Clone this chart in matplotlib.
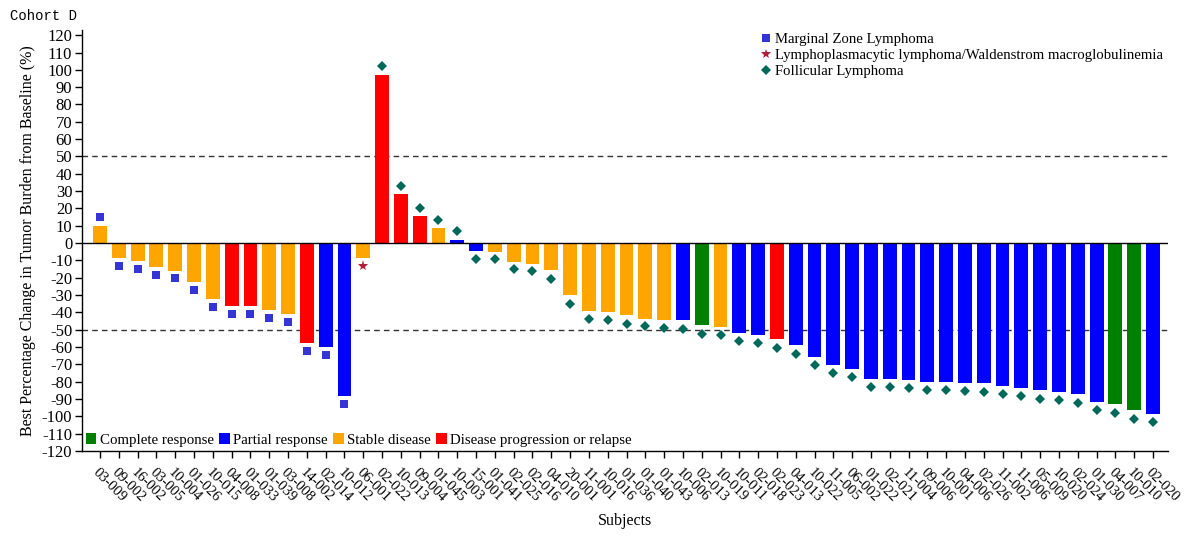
import matplotlib
matplotlib.use("Agg")
import matplotlib.pyplot as plt
from matplotlib.lines import Line2D
from matplotlib.patches import Patch

subjects = ["03-009", "09-002", "16-002", "03-005", "10-004", "01-026", "10-015", "04-008",
            "01-033", "01-039", "03-008", "14-002", "02-014", "10-012", "06-001", "02-022",
            "10-013", "09-004", "01-045", "10-003", "15-001", "01-041", "02-025", "02-016",
            "04-010", "20-001", "11-001", "10-016", "01-036", "01-040", "01-043", "10-006",
            "02-013", "10-019", "10-011", "02-018", "02-023", "04-013", "10-022", "11-005",
            "06-002", "01-022", "02-021", "11-004", "09-006", "10-001", "04-006", "02-026",
            "11-002", "11-006", "05-009", "10-020", "02-024", "01-030", "04-007", "10-010",
            "02-020"]

best_change = [10.0, -8.7, -10.3, -14.0, -15.9, -22.5, -32.0, -36.5, -36.5, -38.8, -41.1,
               -57.8, -59.7, -88.2, -8.7, 97.3, 28.1, 15.9, 8.7, 1.9, -4.3, -4.9, -10.7,
               -12.0, -15.5, -30.0, -39.2, -39.8, -41.7, -43.6, -44.2, -44.6, -47.5, -48.5,
               -51.7, -52.9, -55.6, -59.1, -65.5, -70.3, -72.5, -78.3, -78.3, -78.9, -80.1,
               -80.1, -80.5, -80.9, -82.5, -83.4, -85.0, -86.0, -86.9, -91.6, -93.1, -96.2,
               -98.6]

marker_values = [14.9, -13.2, -14.7, -18.4, -20.4, -27.2, -36.7, -41.1, -41.1, -43.0, -45.8,
                 -62.4, -64.4, -92.7, -13.2, 102.0, 32.9, 20.3, 13.5, 6.8, -9.1, -9.3, -14.7,
                 -16.1, -20.6, -34.9, -43.8, -44.2, -46.5, -48.1, -48.8, -49.4, -52.3, -53.3,
                 -56.6, -57.8, -60.5, -64.0, -70.5, -75.2, -77.4, -83.0, -83.0, -83.5, -84.8,
                 -84.8, -85.3, -85.7, -87.2, -88.2, -89.8, -90.6, -92.3, -96.5, -98.0, -101.5,
                 -103.5]

response = (["SD"] * 7 + ["PD", "PD", "SD", "SD", "PD", "PR", "PR", "SD", "PD", "PD", "PD",
                          "SD", "PR", "PR"]
            + ["SD"] * 10 + ["PR", "CR", "SD", "PR", "PR", "PD", "PR"] + ["PR"] * 16
            + ["CR", "CR", "PR"])

histology = ["MZL"] * 14 + ["LPL"] + ["FL"] * 42

response_labels = {"CR": "Complete response", "PR": "Partial response",
                   "SD": "Stable disease", "PD": "Disease progression or relapse"}
response_colors = {"CR": "#008000", "PR": "#0000FF", "SD": "#FFA500", "PD": "#FF0000"}
histology_labels = {"MZL": "Marginal Zone Lymphoma",
                    "LPL": "Lymphoplasmacytic lymphoma/Waldenstrom macroglobulinemia",
                    "FL": "Follicular Lymphoma"}
histology_style = {"MZL": dict(marker="s", color="#3535D5", ms=6.0),
                   "LPL": dict(marker="*", color="#B0203A", ms=8.0),
                   "FL": dict(marker="D", color="#00695A", ms=5.5)}

serif = "Liberation Serif"
plt.rcParams["font.family"] = serif
plt.rcParams["axes.unicode_minus"] = False

fig = plt.figure(figsize=(11.91, 5.37), dpi=100)
ax = fig.add_axes([82 / 1191, 1 - 451 / 537, (1168 - 82) / 1191, (451 - 30) / 537])

x = list(range(len(subjects)))
ax.bar(x, best_change, width=0.74, color=[response_colors[r] for r in response],
       edgecolor="none", zorder=2)

for key in ["MZL", "LPL", "FL"]:
    xs = [i for i, h in enumerate(histology) if h == key]
    ys = [marker_values[i] for i in xs]
    st = histology_style[key]
    ax.plot(xs, ys, linestyle="none", marker=st["marker"], color=st["color"],
            markersize=st["ms"], markeredgewidth=0, zorder=3)

ax.axhline(0, color="black", lw=1.0, zorder=4)
for yv in (50, -50):
    ax.axhline(yv, color="#333333", lw=1.0, dashes=(4, 3), zorder=1)

ax.set_xlim(-0.96, 56.8)
ax.set_ylim(-120, 123)
ax.set_yticks(range(-120, 121, 10))
ax.set_xticks(x)
ax.set_xticklabels(subjects, rotation=-45, ha="left", va="top", rotation_mode="anchor",
                   fontsize=10.5)
ax.tick_params(axis="x", direction="out", length=5, width=1, pad=6)
ax.tick_params(axis="y", direction="out", length=5, width=1, labelsize=12, pad=2)
for s in ("top", "right"):
    ax.spines[s].set_visible(False)
for s in ("left", "bottom"):
    ax.spines[s].set_linewidth(1.0)

ax.set_ylabel("Best Percentage Change in Tumor Burden from Baseline (%)", fontsize=11.5,
              labelpad=4)
ax.set_xlabel("Subjects", fontsize=11.5, labelpad=6)

fig.text(10 / 1191, 1 - 16 / 537, "Cohort D", family="Liberation Mono", fontsize=10,
         va="center", ha="left")

# histology legend
hist_handles = [Line2D([], [], linestyle="none", marker=histology_style[k]["marker"],
                       color=histology_style[k]["color"], markersize=histology_style[k]["ms"] - 0.5,
                       markeredgewidth=0, label=histology_labels[k])
                for k in ["MZL", "LPL", "FL"]]
leg1 = fig.legend(handles=hist_handles, loc="upper left",
                  bbox_to_anchor=(760 / 1191, 1 - 33 / 537), frameon=False, fontsize=10.6,
                  handlelength=0.8, handletextpad=0.2, labelspacing=0.18, borderaxespad=0,
                  borderpad=0)

resp_handles = [Patch(facecolor=response_colors[k], edgecolor="none", label=response_labels[k])
                for k in ["CR", "PR", "SD", "PD"]]
leg2 = fig.legend(handles=resp_handles, loc="center left",
                  bbox_to_anchor=(86 / 1191, 1 - 440 / 537), frameon=False, fontsize=10.7,
                  ncol=4, handlelength=0.7, handleheight=0.7, handletextpad=0.25,
                  columnspacing=0.35, borderaxespad=0, borderpad=0)

fig.savefig("out.png", dpi=100)
